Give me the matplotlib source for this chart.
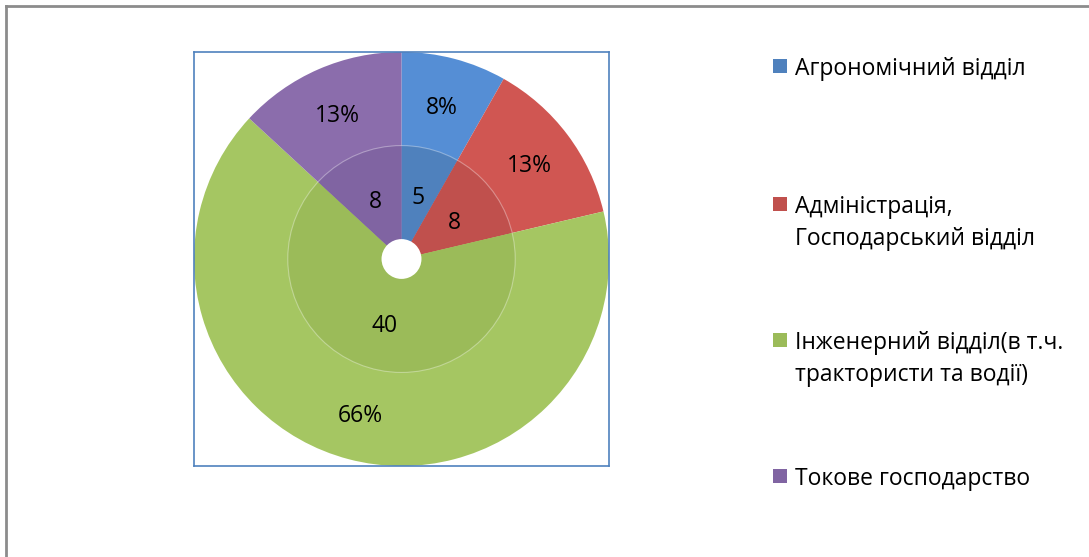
import matplotlib
matplotlib.use("Agg")
import matplotlib.pyplot as plt
from matplotlib.patches import Rectangle, Circle
from matplotlib.lines import Line2D

plt.rcParams['font.family'] = ['Open Sans', 'DejaVu Sans']

categories = ["Агрономічний відділ", "Адміністрація,\nГосподарський відділ",
              "Інженерний відділ(в т.ч.\nтрактористи та водії)", "Токове господарство"]
values = [5, 8, 40, 8]
outer_colors = ["#558ED5", "#D05652", "#A5C662", "#8B6DAC"]
inner_colors = ["#4F81BD", "#C0504D", "#9BBB59", "#8064A2"]

W, H = 1089, 557
fig = plt.figure(figsize=(W / 100, H / 100), dpi=100)

def fx(px):
    return px / W

def fy(py):
    return 1 - py / H

# outer frame (top and left only)
fig.add_artist(Line2D([fx(6), fx(6)], [fy(6), fy(557)], color="#8C8C8C", lw=2))
fig.add_artist(Line2D([fx(6), fx(1089)], [fy(6), fy(6)], color="#8C8C8C", lw=2))

ax = fig.add_axes([fx(194), fy(466), fx(609) - fx(194), fy(52) - fy(466)])

total = sum(values)
R_out = 1.0
R_in = 114 / 208
R_hole = 20 / 208

_, _, t_out = ax.pie(values, radius=R_out, colors=outer_colors, startangle=90,
                     counterclock=False, autopct='%1.0f%%', pctdistance=0.77,
                     wedgeprops=dict(linewidth=0), frame=True,
                     textprops=dict(fontsize=16.5, color='black'))
_, _, t_in = ax.pie(values, radius=R_in, colors=inner_colors, startangle=90,
                    counterclock=False,
                    autopct=lambda p: f"{round(p * total / 100)}",
                    pctdistance=0.58,
                    wedgeprops=dict(width=R_in - R_hole, linewidth=0), frame=True,
                    textprops=dict(fontsize=16.5, color='black'))
for t in list(t_out) + list(t_in):
    t.set_va('center_baseline')
ax.add_patch(Circle((0, 0), R_in, fill=False, edgecolor='white', lw=0.8, alpha=0.35))
ax.add_patch(Circle((0, 0), R_hole, facecolor='white', edgecolor='none'))
ax.set_xlim(-1.0, 1.0)
ax.set_ylim(-1.0, 1.0)
ax.set_aspect('auto')
ax.set_xticks([])
ax.set_yticks([])
for s in ax.spines.values():
    s.set_color("#4F81BD")
    s.set_linewidth(1.2)

# legend
tops = [66, 204, 340, 476]
for lab, col, yc in zip(categories, inner_colors, tops):
    fig.add_artist(Rectangle((fx(773), fy(yc + 7)), fx(14), fy(yc - 7) - fy(yc + 7),
                             facecolor=col, edgecolor='none'))
    for i, line in enumerate(lab.split("\n")):
        fig.text(fx(795), fy(yc + 32 * i), line, fontsize=16.5,
                 va='center_baseline', ha='left')

fig.savefig("out.png", dpi=100)
